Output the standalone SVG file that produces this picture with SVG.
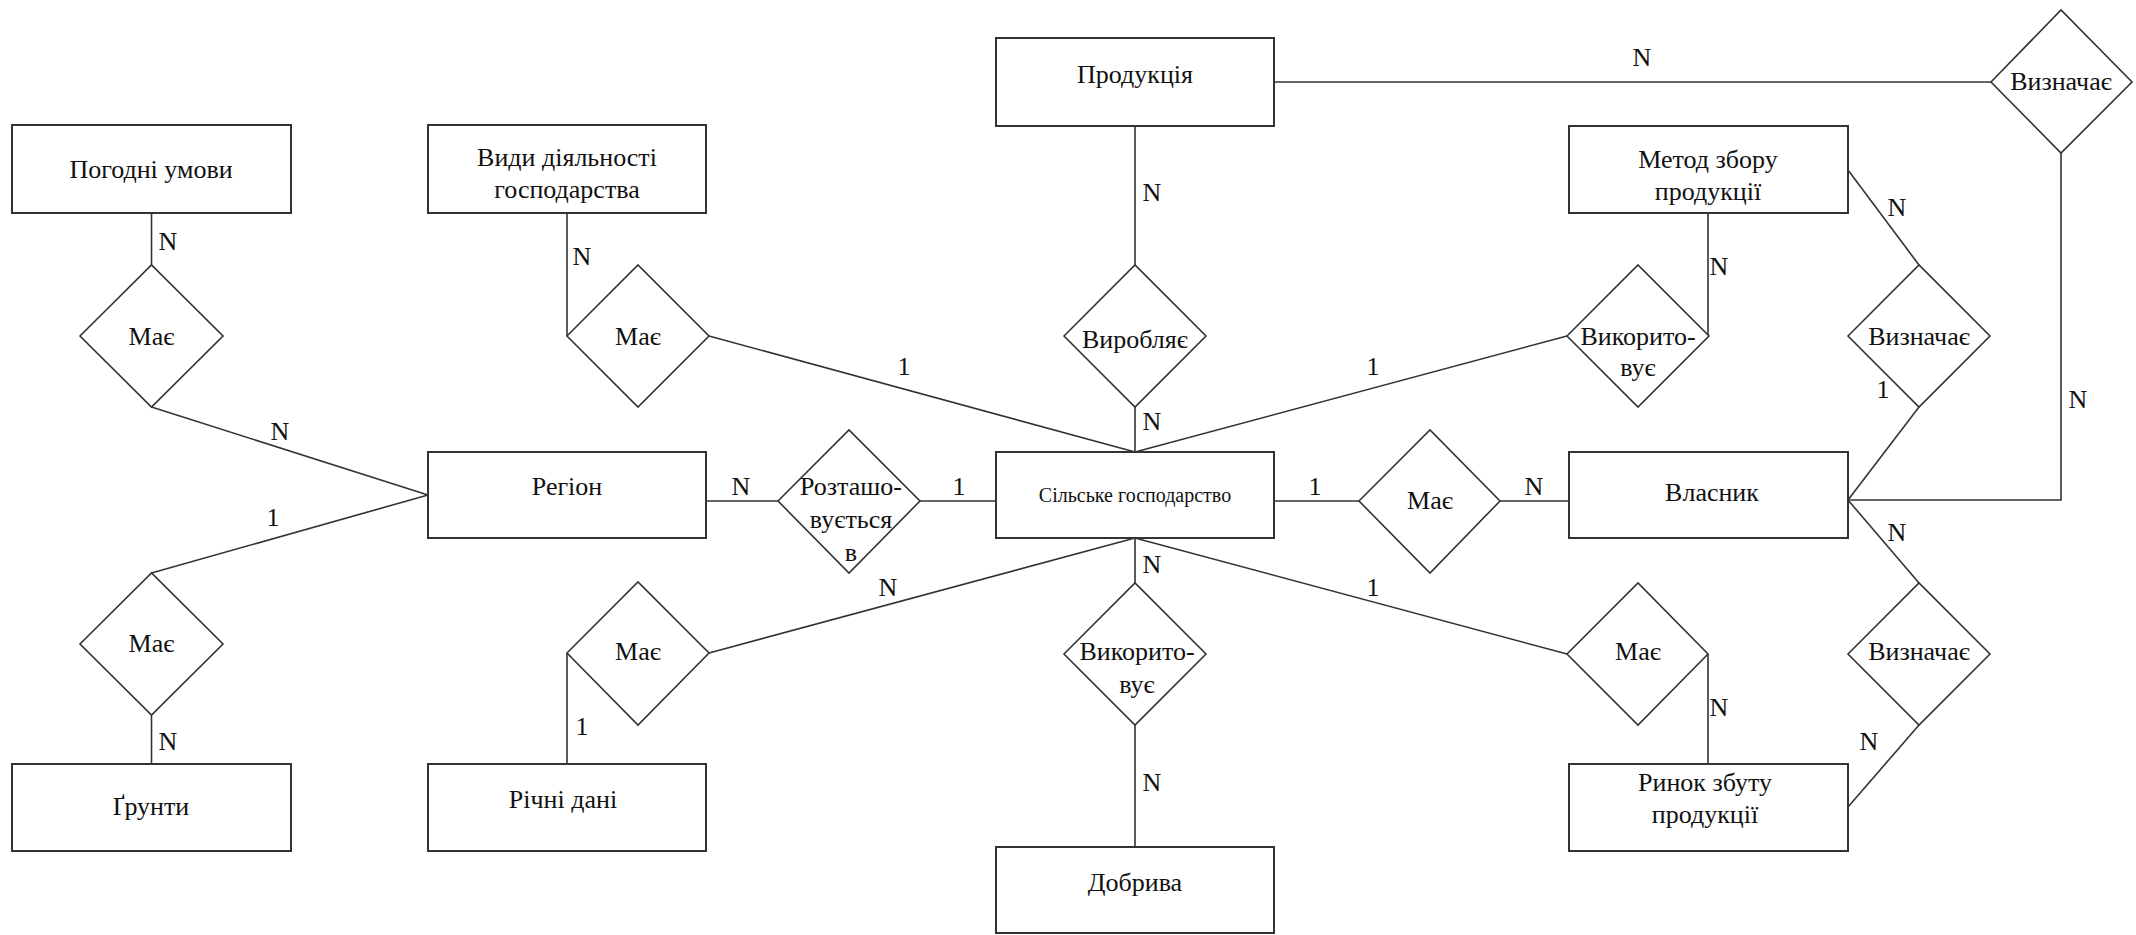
<svg xmlns="http://www.w3.org/2000/svg" width="2136" height="935" viewBox="0 0 2136 935" font-family="'Liberation Serif', 'DejaVu Serif', serif">
<style>
.box{fill:#fff;stroke:#333;stroke-width:2}
.dia{fill:#fff;stroke:#333;stroke-width:1.6}
.ln{fill:none;stroke:#333;stroke-width:1.6}
text{font-family:'Liberation Serif','DejaVu Serif',serif;font-size:26px;fill:#111;text-anchor:middle}
text.sm{font-size:20px}
</style>
<rect width="2136" height="935" fill="#fff"/>
<g id="connectors">
<polyline class="ln" points="151.5,213 151.5,265"/>
<polyline class="ln" points="151.5,407 428,495"/>
<polyline class="ln" points="428,495 151.5,573"/>
<polyline class="ln" points="151.5,715 151.5,764"/>
<polyline class="ln" points="567,213 567,336"/>
<polyline class="ln" points="709,336 1135,452"/>
<polyline class="ln" points="1135,126 1135,265"/>
<polyline class="ln" points="1135,407 1135,452"/>
<polyline class="ln" points="1567,336 1135,452"/>
<polyline class="ln" points="1708,213 1708,336"/>
<polyline class="ln" points="1274,82 1991,82"/>
<polyline class="ln" points="2061,153 2061,500 1848,500"/>
<polyline class="ln" points="1848,170 1919,265"/>
<polyline class="ln" points="1919,407 1848,500"/>
<polyline class="ln" points="1848,500 1919,583"/>
<polyline class="ln" points="1919,725 1848,807"/>
<polyline class="ln" points="706,501 778,501"/>
<polyline class="ln" points="920,501 996,501"/>
<polyline class="ln" points="1274,501 1359,501"/>
<polyline class="ln" points="1500,501 1569,501"/>
<polyline class="ln" points="1135,538 709,653"/>
<polyline class="ln" points="567,653 567,764"/>
<polyline class="ln" points="1135,538 1135,583"/>
<polyline class="ln" points="1135,725 1135,847"/>
<polyline class="ln" points="1135,538 1567,654"/>
<polyline class="ln" points="1708,654 1708,764"/>
</g>
<g id="labels">
<text x="168" y="250">N</text>
<text x="280" y="440">N</text>
<text x="273" y="526">1</text>
<text x="168" y="750">N</text>
<text x="582" y="265">N</text>
<text x="904" y="375">1</text>
<text x="1152" y="201">N</text>
<text x="1152" y="430">N</text>
<text x="1373" y="375">1</text>
<text x="1719" y="275">N</text>
<text x="1642" y="66">N</text>
<text x="2078" y="408">N</text>
<text x="1897" y="216">N</text>
<text x="1883" y="398">1</text>
<text x="1897" y="541">N</text>
<text x="1869" y="750">N</text>
<text x="741" y="495">N</text>
<text x="959" y="495">1</text>
<text x="1315" y="495">1</text>
<text x="1534" y="495">N</text>
<text x="888" y="596">N</text>
<text x="1152" y="573">N</text>
<text x="1152" y="791">N</text>
<text x="1373" y="596">1</text>
<text x="582" y="735">1</text>
<text x="1719" y="716">N</text>
</g>
<g id="pogodni"><rect class="box" x="12" y="125" width="279" height="88"/><text x="151" y="178">Погодні умови</text></g>
<g id="vydy"><rect class="box" x="428" y="125" width="278" height="88"/><text x="567" y="166">Види діяльності</text><text x="567" y="198">господарства</text></g>
<g id="produktsia"><rect class="box" x="996" y="38" width="278" height="88"/><text x="1135" y="83">Продукція</text></g>
<g id="metod"><rect class="box" x="1569" y="126" width="279" height="87"/><text x="1708" y="168">Метод збору</text><text x="1708" y="200">продукції</text></g>
<g id="region"><rect class="box" x="428" y="452" width="278" height="86"/><text x="567" y="495">Регіон</text></g>
<g id="silske"><rect class="box" x="996" y="452" width="278" height="86"/><text class="sm" x="1135" y="502">Сільське господарство</text></g>
<g id="vlasnyk"><rect class="box" x="1569" y="452" width="279" height="86"/><text x="1712" y="501">Власник</text></g>
<g id="grunty"><rect class="box" x="12" y="764" width="279" height="87"/><text x="151" y="815">Ґрунти</text></g>
<g id="richni"><rect class="box" x="428" y="764" width="278" height="87"/><text x="563" y="808">Річні дані</text></g>
<g id="dobryva"><rect class="box" x="996" y="847" width="278" height="86"/><text x="1135" y="891">Добрива</text></g>
<g id="rynok"><rect class="box" x="1569" y="764" width="279" height="87"/><text x="1705" y="791">Ринок збуту</text><text x="1705" y="823">продукції</text></g>
<g id="mae1"><polygon class="dia" points="80,336 151.5,265 223,336 151.5,407"/><text x="151.5" y="345">Має</text></g>
<g id="mae2"><polygon class="dia" points="567,336 638,265 709,336 638,407"/><text x="638" y="345">Має</text></g>
<g id="vyrobliaie"><polygon class="dia" points="1064,336 1135,265 1206,336 1135,407"/><text x="1135" y="348">Виробляє</text></g>
<g id="vykoryst1"><polygon class="dia" points="1567,336 1638,265 1709,336 1638,407"/><text x="1638" y="345">Викорито-</text><text x="1638" y="376">вує</text></g>
<g id="vyzn_top"><polygon class="dia" points="1991,82 2061,10 2132,82 2061,153"/><text x="2061" y="90">Визначає</text></g>
<g id="vyzn_mid"><polygon class="dia" points="1848,336 1919,265 1990,336 1919,407"/><text x="1919" y="345">Визначає</text></g>
<g id="roztash"><polygon class="dia" points="778,501 849,430 920,501 849,573"/><text x="851" y="495">Розташо-</text><text x="851" y="528">вується</text><text x="851" y="561">в</text></g>
<g id="mae_right"><polygon class="dia" points="1359,501 1430,430 1500,501 1430,573"/><text x="1430" y="509">Має</text></g>
<g id="mae3"><polygon class="dia" points="567,653 638,582 709,653 638,725"/><text x="638" y="660">Має</text></g>
<g id="mae4"><polygon class="dia" points="80,644 151.5,573 223,644 151.5,715"/><text x="151.5" y="652">Має</text></g>
<g id="vykoryst2"><polygon class="dia" points="1064,654 1135,583 1206,654 1135,725"/><text x="1137" y="660">Викорито-</text><text x="1137" y="693">вує</text></g>
<g id="mae5"><polygon class="dia" points="1567,654 1638,583 1708,654 1638,725"/><text x="1638" y="660">Має</text></g>
<g id="vyzn_low"><polygon class="dia" points="1848,654 1919,583 1990,654 1919,725"/><text x="1919" y="660">Визначає</text></g>
</svg>
